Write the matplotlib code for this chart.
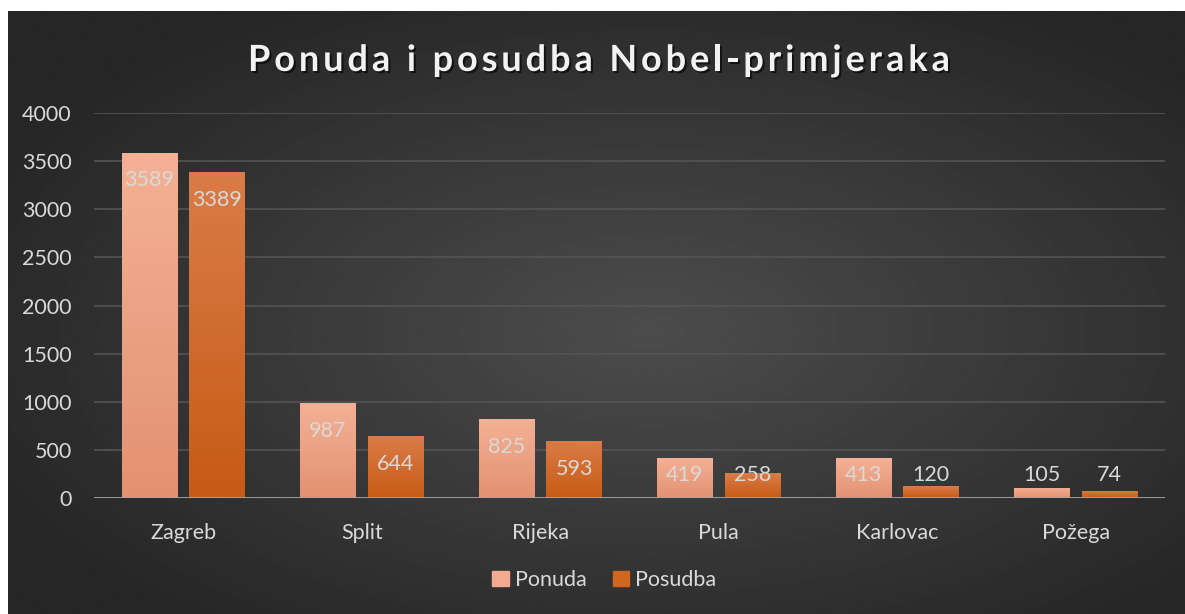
import numpy as np
import matplotlib
matplotlib.use("Agg")
import matplotlib.pyplot as plt
import matplotlib.patheffects as pe
from matplotlib.colors import LinearSegmentedColormap
from matplotlib.patches import Patch
from matplotlib.font_manager import FontProperties

cities = ["Zagreb", "Split", "Rijeka", "Pula", "Karlovac", "Požega"]
ponuda = [3589, 987, 825, 419, 413, 105]
posudba = [3389, 644, 593, 258, 120, 74]
yticks = [0, 500, 1000, 1500, 2000, 2500, 3000, 3500, 4000]
title = "Ponuda i posudba Nobel-primjeraka"

plt.rcParams["font.family"] = ["Lato", "DejaVu Sans"]
txt = "#d9d9d9"
fs = 15.5
W, H = 1185, 614

fig = plt.figure(figsize=(W / 100, H / 100), dpi=100, facecolor="white")

# dark radial gradient background
bg = fig.add_axes([8 / W, 0, 1 - 8 / W, 603 / H])
bg.axis("off")
yy, xx = np.mgrid[-1:1:300j, -1:1:600j]
r = np.sqrt((xx - 0.09) ** 2 + (yy - 0.06) ** 2) / 1.25
val = 0.30 - 0.15 * np.clip(r, 0, 1)
bg.imshow(val, cmap="gray", vmin=0, vmax=1, aspect="auto",
          extent=[0, 1, 0, 1], interpolation="bilinear")

ax = fig.add_axes([94 / W, (H - 498) / H, (1165 - 94) / W, 385 / H])
ax.patch.set_visible(False)

x = np.arange(len(cities))
w = 0.31
b1 = ax.bar(x - 0.19, ponuda, w, color="#eda184", zorder=3)
b2 = ax.bar(x + 0.19, posudba, w, color="#d06a2a", zorder=3)

grad = np.linspace(0, 1, 100).reshape(-1, 1)
for bars, bot, top in [(b1, "#e39172", "#f4b195"), (b2, "#c75b15", "#da7c48")]:
    cmap = LinearSegmentedColormap.from_list("g", [bot, top])
    for rect in bars:
        x0, y0 = rect.get_xy()
        im = ax.imshow(grad, cmap=cmap, origin="lower", aspect="auto",
                       extent=[x0, x0 + rect.get_width(), y0, y0 + rect.get_height()],
                       zorder=3.5)
        im.set_clip_path(rect)

# data labels: inside end, kept above the baseline for short bars
for bars, vals in [(b1, ponuda), (b2, posudba)]:
    for rect, v in zip(bars, vals):
        ax.text(rect.get_x() + rect.get_width() / 2, max(v - 290, 240), str(v),
                ha="center", va="center", color=txt, fontsize=fs, zorder=5)

ax.set_xlim(-0.5, len(cities) - 0.5)
ax.set_ylim(0, 4000)
ax.set_yticks(yticks)
ax.set_yticklabels([str(t) for t in yticks])
ax.set_xticks(x)
ax.set_xticklabels(cities)
ax.tick_params(axis="both", length=0, colors=txt, labelsize=fs)
ax.tick_params(axis="y", pad=16)
ax.tick_params(axis="x", pad=18)
for s in ax.spines.values():
    s.set_visible(False)
for t in yticks[1:]:
    ax.axhline(t, color="#545454", lw=1.2, zorder=1)
ax.axhline(0, color="#a6a6a6", lw=2, zorder=4)

# legend
handles = [Patch(color="#f2ab8e", label="Ponuda"), Patch(color="#d2661f", label="Posudba")]
fig.legend(handles=handles, loc="center", bbox_to_anchor=(0.51, (H - 580) / H),
           ncol=2, frameon=False, fontsize=fs, labelcolor=txt,
           handlelength=0.75, handleheight=0.75, handletextpad=0.3, columnspacing=1.2)

# title with letter spacing, placed char by char
fp = FontProperties(family=["Lato", "DejaVu Sans"], weight="bold", size=26)
rend = fig.canvas.get_renderer()


def tw(s):
    return rend.get_text_width_height_descent(s, fp, ismath=False)[0]


base = tw("ll")
adv = [tw("l" + c + "l") - base for c in title]
target = 702
extra = (target - sum(adv)) / (len(title) - 1)
xpos = 248
shadow = [pe.withSimplePatchShadow(offset=(1.5, -1.5), shadow_rgbFace="black", alpha=0.6)]
for c, a in zip(title, adv):
    if c != " ":
        fig.text(xpos / W, (H - 71) / H, c, fontproperties=fp, color="#f2f2f2",
                 ha="left", va="baseline", path_effects=shadow)
    xpos += a + extra

fig.savefig("out.png", dpi=100, facecolor="white")
